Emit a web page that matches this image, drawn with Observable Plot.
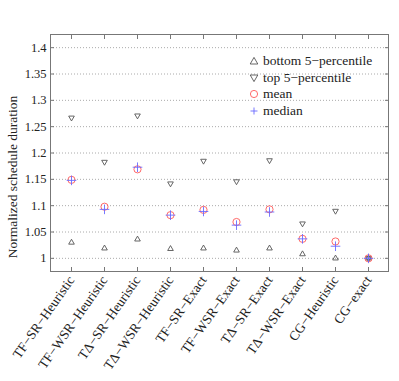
<!DOCTYPE html>
<html>
<head>
<meta charset="utf-8">
<script src="https://cdn.jsdelivr.net/npm/d3@7"></script>
<script src="https://cdn.jsdelivr.net/npm/@observablehq/plot@0.6"></script>
<style>
  html, body { margin: 0; padding: 0; background: #fff; }
  #wrap { position: relative; width: 399px; height: 381px; font-family: "Liberation Serif", "DejaVu Serif", serif; }
  #wrap svg, #wrap svg text, #legend, #legend span { font-family: "Liberation Serif", "DejaVu Serif", serif !important; }
  #legend { position: absolute; left: 248px; top: 53px; font-size: 13.5px; color: #222; }
  #legend .row { display: flex; align-items: center; height: 16.5px; white-space: nowrap; }
  #legend svg { width: 12px; height: 12px; margin-right: 3px; overflow: visible; }
</style>
</head>
<body>
<div id="wrap"></div>
<script>
const categories = ["TF−SR−Heuristic", "TF−WSR−Heuristic", "TΔ−SR−Heuristic", "TΔ−WSR−Heuristic", "TF−SR−Exact", "TF−WSR−Exact", "TΔ−SR−Exact", "TΔ−WSR−Exact", "CG−Heuristic", "CG−exact"];
const bottom5 = [1.030, 1.019, 1.036, 1.018, 1.019, 1.015, 1.019, 1.008, 1.000, 1.000];
const top5    = [1.267, 1.183, 1.271, 1.142, 1.185, 1.146, 1.186, 1.066, 1.090, 1.000];
const mean    = [1.149, 1.098, 1.169, 1.082, 1.092, 1.069, 1.093, 1.037, 1.032, 1.000];
const median  = [1.148, 1.093, 1.173, 1.082, 1.089, 1.063, 1.088, 1.037, 1.023, 1.000];
const yTicks  = [1, 1.05, 1.1, 1.15, 1.2, 1.25, 1.3, 1.35, 1.4];
const seriesNames = ["bottom 5−percentile", "top 5−percentile", "mean", "median"];

const rows = categories.map((c, i) => ({cat: c, bottom: bottom5[i], top: top5[i], mean: mean[i], median: median[i]}));
const grey = "#555", red = "#ff5a5a", blue = "#6a6aff";
const fmt = d => String(+d.toFixed(2));

const chart = Plot.plot({
  width: 399, height: 381,
  marginLeft: 50, marginTop: 34, marginRight: 11, marginBottom: 110,
  style: {fontFamily: "Liberation Serif, DejaVu Serif, serif", fontSize: "12.5px", color: "#222", background: "white", overflow: "visible"},
  x: {type: "point", domain: categories, padding: 0.5},
  y: {domain: [0.975, 1.425]},
  marks: [
    Plot.gridY(yTicks, {stroke: "#aaa", strokeOpacity: 1, strokeDasharray: "1,2"}),
    Plot.frame({stroke: "#777"}),
    Plot.axisY(yTicks, {anchor: "left", tickSize: 0, tickPadding: 4, tickFormat: fmt, label: null}),
    Plot.axisY(yTicks, {anchor: "left", tickSize: -4, tickFormat: () => "", label: null, stroke: "#777"}),
    Plot.axisY(yTicks, {anchor: "right", tickSize: -4, tickFormat: () => "", label: null, stroke: "#777"}),
    Plot.axisX({anchor: "bottom", tickSize: -4, tickFormat: () => "", label: null, stroke: "#777"}),
    Plot.axisX({anchor: "top", tickSize: -4, tickFormat: () => "", label: null, stroke: "#777"}),
    Plot.axisX({anchor: "bottom", tickSize: 0, tickPadding: 6, tickRotate: -55, label: null, fontSize: 13.5}),
    Plot.text(["Normalized schedule duration"], {frameAnchor: "left", textAnchor: "middle", rotate: -90, dx: -38, dy: 24, fontSize: 13.5, fill: "#222"}),
    Plot.dot(rows, {x: "cat", y: "bottom", symbol: "triangle2", r: 2.7, stroke: grey, strokeWidth: 0.9}),
    Plot.dot(rows, {x: "cat", y: "top", symbol: "triangle2", r: 2.7, rotate: 180, stroke: grey, strokeWidth: 0.9}),
    Plot.dot(rows, {x: "cat", y: "mean", symbol: "circle", r: 3.6, stroke: red, strokeWidth: 0.9}),
    Plot.dot(rows, {x: "cat", y: "median", symbol: "plus", r: 3.2, stroke: blue, strokeWidth: 0.9})
  ]
});

const wrap = document.getElementById("wrap");
wrap.appendChild(chart);

// Legend
const glyphs = [
  `<path d="M0,-3.6L3.8,3L-3.8,3Z" fill="none" stroke="${grey}" stroke-width="0.9" transform="translate(6,6)"/>`,
  `<path d="M0,3.6L3.8,-3L-3.8,-3Z" fill="none" stroke="${grey}" stroke-width="0.9" transform="translate(6,6)"/>`,
  `<circle cx="6" cy="6" r="3.6" fill="none" stroke="${red}" stroke-width="0.9"/>`,
  `<path d="M6,2.5V9.5M2.5,6H9.5" stroke="${blue}" stroke-width="0.9"/>`
];
const legend = document.createElement("div");
legend.id = "legend";
legend.innerHTML = seriesNames.map((n, i) =>
  `<div class="row"><svg viewBox="0 0 12 12">${glyphs[i]}</svg><span>${n}</span></div>`).join("");
wrap.appendChild(legend);
</script>
</body>
</html>
